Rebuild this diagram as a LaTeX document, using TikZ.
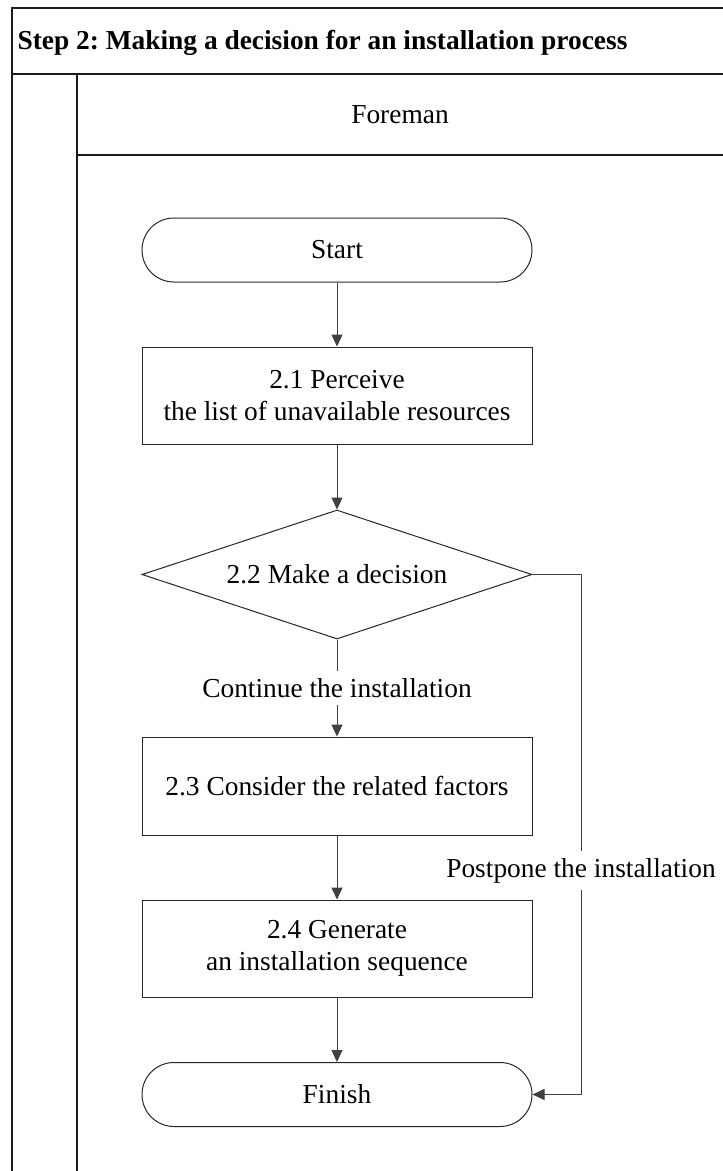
\documentclass[tikz,border=0pt]{standalone}
\usepackage{fontspec}
\setmainfont{Liberation Serif}
\usetikzlibrary{arrows.meta,shapes.geometric}
\frenchspacing

\begin{document}
\begin{tikzpicture}[x=1pt,y=-1pt,
  every node/.style={font=\fontsize{27.4}{31.5}\selectfont},
  frame/.style={line width=2pt,black!90},
  shapeline/.style={draw=black!85,line width=1pt},
  term/.style={shapeline,rectangle,rounded corners=31.9pt,minimum width=390pt,minimum height=64pt,inner sep=0pt},
  procbox/.style={shapeline,rectangle,minimum width=390pt,minimum height=97pt,inner sep=0pt,align=center},
  decision/.style={shapeline,diamond,aspect=3,minimum width=390pt,minimum height=129pt,inner sep=0pt},
  conn/.style={draw=black!75,line width=1pt,-{Triangle[length=12pt,width=11pt]}},
  lbl/.style={fill=white,inner xsep=2pt,inner ysep=7pt,text=black}
]
\useasboundingbox (0,0) rectangle (723,1171);

% swimlane frame
\draw[frame] (723,8) -- (12,8) -- (12,1171);
\draw[frame] (12,73.5) -- (723,73.5);
\draw[frame] (77,73.5) -- (77,1171);
\draw[frame] (77,155) -- (723,155);

\node[anchor=west,font=\fontsize{27.4}{31.5}\selectfont\bfseries] (title) at (14,43) {Step 2: Making a decision for an installation process};
\node (lane) at (400,115) {Foreman};

% flow
\node[term] (start) at (337,250) {Start};
\node[procbox] (p1) at (337,395.5) {2.1 Perceive\\the list of unavailable resources};
\node[decision] (d) at (337,574.5) {2.2 Make a decision};
\node[procbox,minimum height=98pt] (p3) at (337,786) {2.3 Consider the related factors};
\node[procbox] (p4) at (337,948.5) {2.4 Generate\\an installation sequence};
\node[term] (fin) at (337,1094.5) {Finish};

\coordinate (r1) at (581,574.5);
\coordinate (r2) at (581,1094.5);

\draw[conn] (start) -- (p1);
\draw[conn] (p1) -- (d);
\draw[conn] (d) -- node[lbl] {Continue the installation} (p3);
\draw[conn] (p3) -- (p4);
\draw[conn] (p4) -- (fin);
\draw[conn] (d.east) -- (r1) -- node[lbl,pos=0.57] {Postpone the installation} (r2) -- (fin.east);
\end{tikzpicture}
\end{document}
